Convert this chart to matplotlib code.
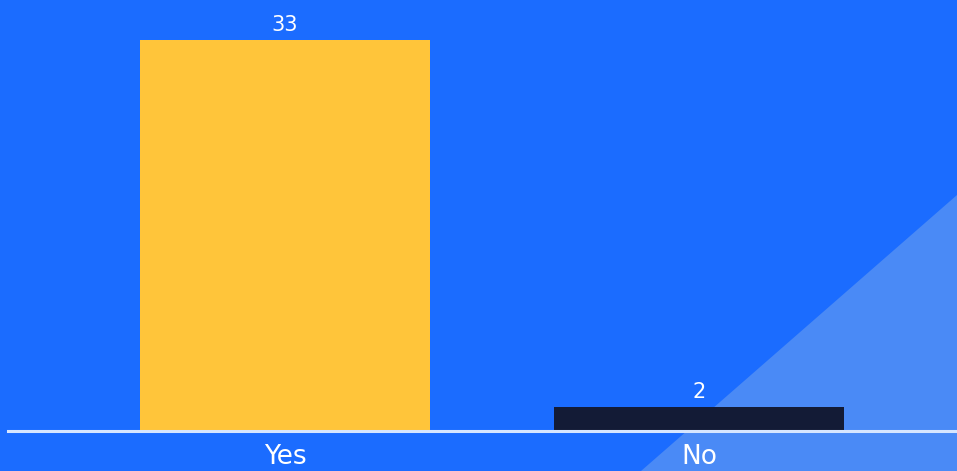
import matplotlib.pyplot as plt
from matplotlib.patches import Polygon

# Data
categories = ['Yes', 'No']
values = [33, 2]
bar_colors = ['#ffc53a', '#131b36']

BG_COLOR = '#1b6cff'
TRIANGLE_COLOR = '#4a8af6'
W, H = 957, 471
DPI = 100


def main():
    fig = plt.figure(figsize=(W / DPI, H / DPI), dpi=DPI)
    fig.patch.set_facecolor(BG_COLOR)

    # lighter triangle in the bottom right corner, behind everything
    tri = Polygon([(1.0, 1 - 195 / H), (641 / W, 0.0), (1.0, 0.0)],
                  closed=True, transform=fig.transFigure,
                  facecolor=TRIANGLE_COLOR, edgecolor='none', zorder=-5)
    fig.patches.append(tri)

    # axes spans the full width, baseline at y=431 px
    base_px = 431
    ax = fig.add_axes([0, (H - base_px) / H, 1, base_px / H])
    ax.set_zorder(2)
    ax.patch.set_alpha(0)

    px_per_unit = (base_px - 40) / values[0]
    spacing = 414
    x = list(range(len(categories)))
    ax.bar(x, values, width=290 / spacing, color=bar_colors, zorder=2)
    ax.set_xlim(-285 / spacing, (W - 285) / spacing)
    ax.set_ylim(0, base_px / px_per_unit)

    for xi, v in zip(x, values):
        ax.text(xi, v + 0.45, str(v), ha='center', va='bottom',
                color='white', fontsize=15, family='DejaVu Sans')
        ax.text(xi, -1.1, categories[xi], ha='center', va='top',
                color='white', fontsize=19, family='DejaVu Sans', clip_on=False)

    ax.axhline(0, xmin=8 / W, xmax=1, color='#d6e6ff', linewidth=2.2,
               zorder=3, clip_on=False)
    ax.axis('off')

    fig.savefig('out.png', dpi=DPI, facecolor=BG_COLOR)


if __name__ == "__main__":
    main()
